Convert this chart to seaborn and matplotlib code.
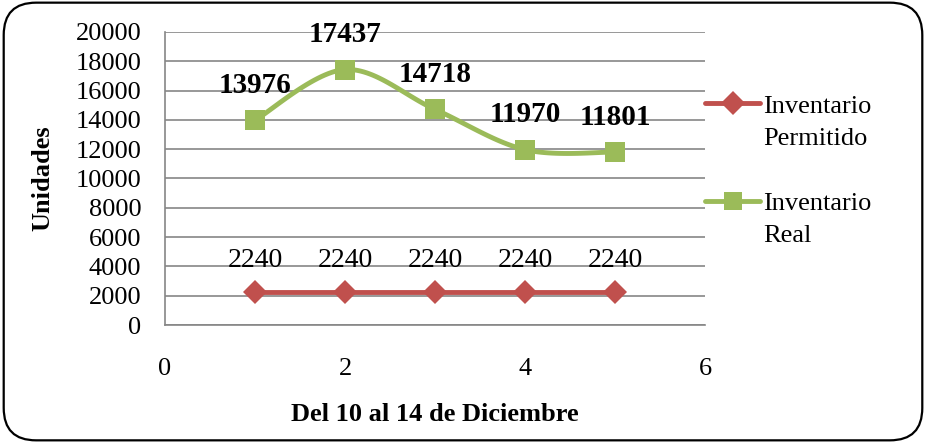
import numpy as np
import pandas as pd
import matplotlib
matplotlib.use('Agg')
import matplotlib.pyplot as plt
import seaborn as sns
from matplotlib.lines import Line2D
from matplotlib.patches import FancyBboxPatch

# data
days = [1, 2, 3, 4, 5]
permitido = [2240, 2240, 2240, 2240, 2240]
real = [13976, 17437, 14718, 11970, 11801]
serie_names = [['Inventario', 'Permitido'], ['Inventario', 'Real']]

sns.set_theme(style='white')
plt.rcParams['font.family'] = ['Liberation Serif', 'DejaVu Serif']
plt.rcParams['text.color'] = 'black'
plt.rcParams['axes.labelcolor'] = 'black'

RED = '#C0504D'
GREEN = '#9BBB59'
GRID = '#868686'


def smooth(xs, ys, n=30):
    # Excel-like smoothed line (Catmull-Rom through the points)
    xs = np.asarray(xs, float)
    ys = np.asarray(ys, float)
    px = np.concatenate([[xs[0]], xs, [xs[-1]]])
    py = np.concatenate([[ys[0]], ys, [ys[-1]]])
    out_x, out_y = [], []
    t = np.linspace(0, 1, n)
    for i in range(1, len(px) - 2):
        p0x, p1x, p2x, p3x = px[i - 1:i + 3]
        p0y, p1y, p2y, p3y = py[i - 1:i + 3]
        c1x, c1y = p1x + (p2x - p0x) / 6, p1y + (p2y - p0y) / 6
        c2x, c2y = p2x - (p3x - p1x) / 6, p2y - (p3y - p1y) / 6
        bx = (1 - t) ** 3 * p1x + 3 * (1 - t) ** 2 * t * c1x + 3 * (1 - t) * t ** 2 * c2x + t ** 3 * p2x
        by = (1 - t) ** 3 * p1y + 3 * (1 - t) ** 2 * t * c1y + 3 * (1 - t) * t ** 2 * c2y + t ** 3 * p2y
        out_x.extend(bx)
        out_y.extend(by)
    return np.array(out_x), np.array(out_y)


df = pd.DataFrame({'dia': days, 'permitido': permitido, 'real': real})

fig = plt.figure(figsize=(9.26, 4.43), dpi=100)
ax = fig.add_axes([165 / 926, 1 - 325 / 443, 540 / 926, 293 / 443])

# outer rounded frame
frame = FancyBboxPatch((0.004, 0.006), 0.992, 0.988, transform=fig.transFigure,
                       boxstyle='round,pad=0,rounding_size=0.035', mutation_aspect=926 / 443,
                       fill=False, edgecolor='black', linewidth=1.6, zorder=10)
fig.patches.append(frame)

sns.lineplot(data=df, x='dia', y='permitido', ax=ax, color=RED, linewidth=3.5,
             marker='D', markersize=12, markeredgewidth=0, zorder=3)

sx, sy = smooth(df['dia'], df['real'])
ax.plot(sx, sy, color=GREEN, linewidth=3.5, zorder=3)
sns.scatterplot(data=df, x='dia', y='real', ax=ax, color=GREEN, marker='s', s=200,
                linewidth=0, zorder=4)

for x, y in zip(days, permitido):
    ax.annotate(str(y), (x, y), xytext=(0, 23), textcoords='offset points',
                ha='center', va='center', fontsize=20)
for x, y in zip(days, real):
    ax.annotate(str(y), (x, y), xytext=(0, 25), textcoords='offset points',
                ha='center', va='center', fontsize=21, fontweight='bold')

ax.set_xlim(0, 6)
ax.set_ylim(0, 20000)
ax.set_xticks([0, 2, 4, 6])
ax.set_yticks(range(0, 20001, 2000))
ax.grid(axis='y', color=GRID, linewidth=1.2)
ax.grid(axis='x', visible=False)
ax.tick_params(axis='both', length=0, labelsize=19, colors='black')
ax.tick_params(axis='x', pad=24)
ax.tick_params(axis='y', pad=17)
for s in ['top', 'right']:
    ax.spines[s].set_visible(False)
for s in ['left', 'bottom']:
    ax.spines[s].set_color(GRID)
    ax.spines[s].set_linewidth(1.2)

ax.set_xlabel('Del 10 al 14 de Diciembre', fontsize=19, fontweight='bold', labelpad=16)
ax.set_ylabel('Unidades', fontsize=19, fontweight='bold', labelpad=15)

# legend: marker sits next to the first line of each two-line label
blank = Line2D([], [], linestyle='none')
h_red = Line2D([], [], color=RED, linewidth=3.5, marker='D', markersize=12, markeredgewidth=0)
h_green = Line2D([], [], color=GREEN, linewidth=3.5, marker='s', markersize=13, markeredgewidth=0)
handles = [h_red, blank, blank, h_green, blank]
labels = [serie_names[0][0], serie_names[0][1], ' ', serie_names[1][0], serie_names[1][1]]
ax.legend(handles, labels, loc='upper left', bbox_to_anchor=(1.0, 0.788), frameon=False,
          fontsize=19, labelspacing=0.34, handlelength=2.1, handletextpad=0.12,
          borderaxespad=0, borderpad=0)

plt.savefig('out.png', dpi=100)
